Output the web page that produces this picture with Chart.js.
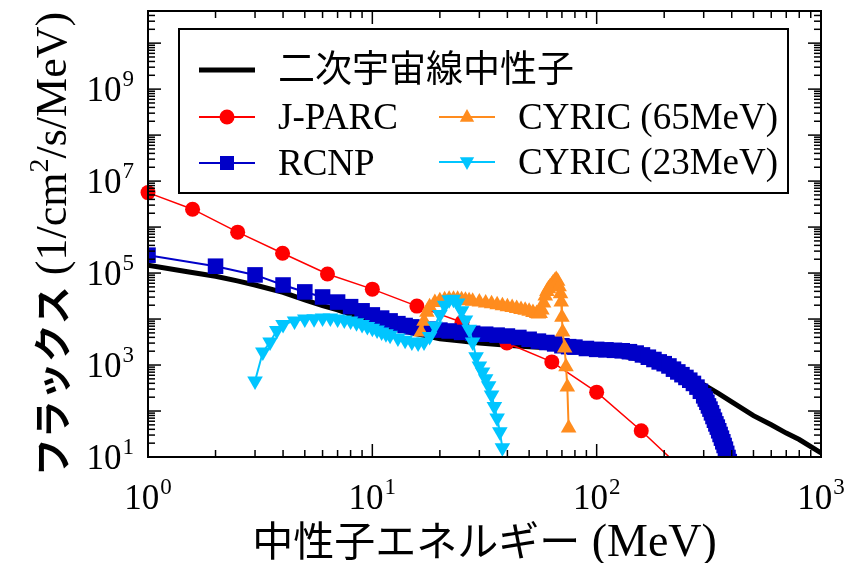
<!DOCTYPE html>
<html>
<head>
<meta charset="utf-8">
<script src="https://cdn.jsdelivr.net/npm/chart.js@4.4.0/dist/chart.umd.min.js"></script>
<style>
  html, body { margin: 0; padding: 0; background: #fff; }
  canvas { display: block; }
</style>
</head>
<body>
<canvas id="chart" width="844" height="563"></canvas>
<script>
const SERIF = '"Liberation Serif", "Times New Roman", serif';
const CJK = '"Noto Sans CJK JP", "Noto Sans", sans-serif';

// secondary cosmic-ray neutrons
const cosmicEnergy = [1, 1.5, 2, 2.5, 3, 4, 5, 6, 7, 8, 10, 12, 15, 20, 25, 30, 40, 50, 70, 100, 150, 200, 250, 300, 350, 400, 500, 600, 700, 800, 1000];
const cosmicFlux = [1.48e5, 1.07e5, 8.51e4, 6.76e4, 5.5e4, 3.8e4, 2.6e4, 1.95e4, 1.58e4, 1.26e4, 8.91e3, 6.61e3, 5.01e3, 3.72e3, 3.31e3, 3.02e3, 2.69e3, 2.51e3, 2.29e3, 2.0e3, 1.38e3, 891, 550, 372, 240, 158, 79.4, 50.1, 33.1, 24.0, 12.3];

const jparcEnergy = [1, 1.58, 2.51, 3.98, 6.31, 10, 15.8, 25.1, 39.8, 63.1, 100, 158, 251];
const jparcFlux = [5.62e6, 2.45e6, 7.76e5, 2.69e5, 9.55e4, 4.47e4, 1.91e4, 8.51e3, 3.02e3, 1.17e3, 257, 37.2, 4.47];

const rcnpEnergy = [1, 2, 3, 4, 5, 6, 7, 8, 9, 10, 11, 12, 13, 14, 15, 16, 18, 20, 22, 25, 28, 32, 36, 40, 45, 50, 55, 60, 65, 70, 75, 80, 90, 100, 110, 120, 130, 140, 150, 160, 170, 180, 190, 200, 210, 220, 230, 240, 250, 260, 270, 280, 290, 300, 305, 310, 315, 320, 325, 330, 335, 340, 345, 350, 355, 360, 365, 370, 375, 380, 385, 390];
const rcnpFlux = [2.45e5, 1.41e5, 9.12e4, 5.5e4, 3.89e4, 3.02e4, 2.34e4, 1.86e4, 1.51e4, 1.23e4, 1.05e4, 9.12e3, 7.94e3, 7.24e3, 6.76e3, 6.46e3, 6.03e3, 5.75e3, 5.5e3, 5.13e3, 4.9e3, 4.68e3, 4.47e3, 4.27e3, 3.98e3, 3.63e3, 3.31e3, 3.09e3, 2.88e3, 2.63e3, 2.51e3, 2.45e3, 2.29e3, 2.19e3, 2.14e3, 2.09e3, 2.04e3, 1.95e3, 1.82e3, 1.66e3, 1.48e3, 1.32e3, 1.17e3, 1.07e3, 955, 813, 708, 617, 537, 468, 398, 331, 269, 214, 182, 155, 129, 110, 91.2, 75.9, 63.1, 52.5, 44.7, 37.2, 30.9, 25.7, 21.4, 17.8, 14.8, 12.0, 9.77, 7.94];

const cyric65Energy = [16.5, 17, 17.5, 18, 19, 20, 21, 22, 23, 24, 25, 26, 27, 28, 30, 32, 34, 36, 38, 40, 42, 44, 46, 48, 50, 52, 54, 55, 56, 57, 58, 59, 60, 61, 62, 63, 64, 65, 66, 67, 68, 69, 69.5, 70, 70.5, 72, 73, 74, 75];
const cyric65Flux = [5.25e3, 8.91e3, 1.41e4, 1.86e4, 2.29e4, 2.51e4, 2.63e4, 2.69e4, 2.69e4, 2.69e4, 2.63e4, 2.57e4, 2.51e4, 2.45e4, 2.34e4, 2.24e4, 2.14e4, 2.04e4, 1.95e4, 1.86e4, 1.78e4, 1.7e4, 1.62e4, 1.55e4, 1.48e4, 1.38e4, 1.32e4, 1.29e4, 1.32e4, 1.58e4, 2.24e4, 3.16e4, 3.98e4, 4.57e4, 5.01e4, 5.5e4, 6.17e4, 6.76e4, 7.24e4, 6.61e4, 5.01e4, 3.55e4, 2.34e4, 1.1e4, 5.25e3, 2.34e3, 912, 331, 42.7];

const cyric23Energy = [3, 3.25, 3.5, 3.75, 4, 4.5, 5, 5.5, 6, 6.5, 7, 7.5, 8, 8.5, 9, 9.5, 10, 10.5, 11, 11.5, 12, 13, 14, 15, 16, 17, 18, 19, 20, 21, 22, 23, 24, 25, 26, 27, 28, 29, 30, 31, 32, 33, 34, 35, 36, 37, 38];
const cyric23Flux = [447, 1.91e3, 3.16e3, 5.62e3, 7.59e3, 9.12e3, 1.0e4, 1.02e4, 1.05e4, 1.05e4, 1.0e4, 9.55e3, 9.12e3, 8.32e3, 7.59e3, 6.92e3, 6.31e3, 5.75e3, 5.25e3, 4.79e3, 4.47e3, 3.89e3, 3.47e3, 3.16e3, 3.02e3, 3.16e3, 4.17e3, 7.08e3, 1.26e4, 2.0e4, 2.63e4, 2.69e4, 2.24e4, 1.51e4, 9.55e3, 6.03e3, 3.16e3, 1.51e3, 955, 708, 501, 355, 224, 126, 70.8, 35.5, 15.8];

const xTickExponents = [0, 1, 2, 3];
const yTickExponents = [1, 3, 5, 7, 9];

const RED = '#ff0000';
const BLUE = '#0000c8';
const ORANGE = '#ff8c1e';
const CYAN = '#00c5ff';

const toPoints = (xs, ys) => xs.map((x, i) => ({ x, y: ys[i] }));

function drawMarker(ctx, style, x, y, r, color) {
  ctx.fillStyle = color;
  ctx.beginPath();
  if (style === 'circle') {
    ctx.arc(x, y, r, 0, Math.PI * 2);
  } else if (style === 'rect') {
    ctx.rect(x - r, y - r, 2 * r, 2 * r);
  } else {
    const s = style === 'down' ? -1 : 1;
    ctx.moveTo(x, y - s * r);
    ctx.lineTo(x + r * 0.9, y + s * r * 0.6);
    ctx.lineTo(x - r * 0.9, y + s * r * 0.6);
    ctx.closePath();
  }
  ctx.fill();
}

function drawPower(ctx, exp, x, baseline, align) {
  ctx.textAlign = 'left';
  ctx.textBaseline = 'alphabetic';
  ctx.font = `35px ${SERIF}`;
  const wb = ctx.measureText('10').width;
  ctx.font = `23px ${SERIF}`;
  const we = ctx.measureText(String(exp)).width;
  const total = wb + we + 1;
  const left = align === 'right' ? x - total : x - total / 2;
  ctx.font = `35px ${SERIF}`;
  ctx.fillText('10', left, baseline);
  ctx.font = `23px ${SERIF}`;
  ctx.fillText(String(exp), left + wb + 1, baseline - 15);
}

function drawRuns(ctx, runs, cx, baseline) {
  let total = 0;
  for (const r of runs) {
    ctx.font = r.font;
    r.w = ctx.measureText(r.text).width;
    total += r.w;
  }
  let x = cx - total / 2;
  ctx.textAlign = 'left';
  ctx.textBaseline = 'alphabetic';
  for (const r of runs) {
    ctx.font = r.font;
    ctx.fillText(r.text, x, baseline - (r.rise || 0));
    x += r.w;
  }
}

const decorPlugin = {
  id: 'decor',
  afterDraw(chart) {
    const { ctx, chartArea: a, scales } = chart;
    const xs = scales.x;
    const ys = scales.y;
    ctx.save();
    ctx.strokeStyle = '#000';
    ctx.fillStyle = '#000';
    ctx.lineWidth = 1.5;

    const seg = (x1, y1, x2, y2) => {
      ctx.beginPath();
      ctx.moveTo(x1, y1);
      ctx.lineTo(x2, y2);
      ctx.stroke();
    };

    // x ticks, top and bottom
    for (let d = 0; d <= 3; d++) {
      for (let k = 1; k <= 9; k++) {
        const v = k * 10 ** d;
        if (v > xs.max) break;
        const px = xs.getPixelForValue(v);
        const len = k === 1 ? 13 : 7;
        seg(px, a.bottom, px, a.bottom - len);
        seg(px, a.top, px, a.top + len);
      }
    }
    // y ticks, left and right
    for (let d = 1; d <= 10; d++) {
      for (let k = 1; k <= 9; k++) {
        const v = k * 10 ** d;
        if (v > ys.max) break;
        const py = ys.getPixelForValue(v);
        const len = k === 1 ? 13 : 7;
        seg(a.left, py, a.left + len, py);
        seg(a.right, py, a.right - len, py);
      }
    }

    ctx.lineWidth = 2;
    ctx.strokeRect(a.left, a.top, a.right - a.left, a.bottom - a.top);

    // tick labels
    for (const e of xTickExponents) {
      drawPower(ctx, e, xs.getPixelForValue(10 ** e), a.bottom + 52, 'center');
    }
    for (const e of yTickExponents) {
      drawPower(ctx, e, a.left - 14, ys.getPixelForValue(10 ** e) + 12, 'right');
    }

    // axis titles
    drawRuns(ctx, [
      { text: '中性子エネルギー', font: `41px ${CJK}` },
      { text: ' (MeV)', font: `46px ${SERIF}` },
    ], (a.left + a.right) / 2, 556);

    ctx.save();
    ctx.translate(66, 244);
    ctx.rotate(-Math.PI / 2);
    drawRuns(ctx, [
      { text: 'フラックス', font: `bold 38px ${CJK}` },
      { text: ' (1/cm', font: `44px ${SERIF}` },
      { text: '2', font: `28px ${SERIF}`, rise: 18 },
      { text: '/s/MeV)', font: `44px ${SERIF}` },
    ], 0, 0);
    ctx.restore();

    // legend
    ctx.fillStyle = '#fff';
    ctx.fillRect(179, 29, 609, 164);
    ctx.lineWidth = 2;
    ctx.strokeStyle = '#000';
    ctx.strokeRect(179, 29, 609, 164);

    const rows = [
      { x: 199, y: 70, color: '#000', width: 5, marker: null, text: '二次宇宙線中性子', font: `37px ${CJK}`, base: 82 },
      { x: 199, y: 117, color: RED, width: 2, marker: 'circle', r: 7.5, text: 'J-PARC', font: `37px ${SERIF}`, base: 129 },
      { x: 199, y: 163, color: BLUE, width: 2, marker: 'rect', r: 7, text: 'RCNP', font: `37px ${SERIF}`, base: 175 },
      { x: 439, y: 117, color: ORANGE, width: 2, marker: 'up', r: 8, text: 'CYRIC (65MeV)', font: `37px ${SERIF}`, base: 129 },
      { x: 439, y: 162, color: CYAN, width: 2, marker: 'down', r: 8, text: 'CYRIC (23MeV)', font: `37px ${SERIF}`, base: 174 },
    ];
    for (const row of rows) {
      ctx.strokeStyle = row.color;
      ctx.lineWidth = row.width;
      seg(row.x, row.y, row.x + 56, row.y);
      if (row.marker) drawMarker(ctx, row.marker, row.x + 28, row.y, row.r, row.color);
      ctx.fillStyle = '#000';
      ctx.font = row.font;
      ctx.textAlign = 'left';
      ctx.textBaseline = 'alphabetic';
      ctx.fillText(row.text, row.x + 79, row.base);
    }
    ctx.restore();
  },
};

new Chart(document.getElementById('chart'), {
  type: 'line',
  data: {
    datasets: [
      {
        label: 'CYRIC (23MeV)',
        data: toPoints(cyric23Energy, cyric23Flux),
        borderColor: CYAN,
        backgroundColor: CYAN,
        borderWidth: 2,
        pointStyle: 'triangle',
        rotation: 180,
        pointRadius: 9,
        pointBorderWidth: 0,
        order: 1,
      },
      {
        label: 'CYRIC (65MeV)',
        data: toPoints(cyric65Energy, cyric65Flux),
        borderColor: ORANGE,
        backgroundColor: ORANGE,
        borderWidth: 2,
        pointStyle: 'triangle',
        pointRadius: 9,
        pointBorderWidth: 0,
        order: 2,
      },
      {
        label: 'RCNP',
        data: toPoints(rcnpEnergy, rcnpFlux),
        borderColor: BLUE,
        backgroundColor: BLUE,
        borderWidth: 2,
        pointStyle: 'rect',
        pointRadius: 11,
        pointBorderWidth: 0,
        order: 3,
      },
      {
        label: 'J-PARC',
        data: toPoints(jparcEnergy, jparcFlux),
        borderColor: RED,
        backgroundColor: RED,
        borderWidth: 1.5,
        pointStyle: 'circle',
        pointRadius: 7.5,
        pointBorderWidth: 0,
        clip: { left: 10, top: 10, right: 10, bottom: 0 },
        order: 4,
      },
      {
        label: '二次宇宙線中性子',
        data: toPoints(cosmicEnergy, cosmicFlux),
        borderColor: '#000',
        borderWidth: 5,
        pointRadius: 0,
        order: 5,
      },
    ],
  },
  options: {
    responsive: false,
    animation: false,
    devicePixelRatio: 1,
    layout: { padding: { left: 148, right: 23, top: 10, bottom: 106 } },
    plugins: { legend: { display: false }, tooltip: { enabled: false } },
    elements: { line: { tension: 0 } },
    scales: {
      x: { type: 'logarithmic', min: 1, max: 1000, display: false },
      y: { type: 'logarithmic', min: 10, max: 5e10, display: false },
    },
  },
  plugins: [decorPlugin],
});
</script>
</body>
</html>
